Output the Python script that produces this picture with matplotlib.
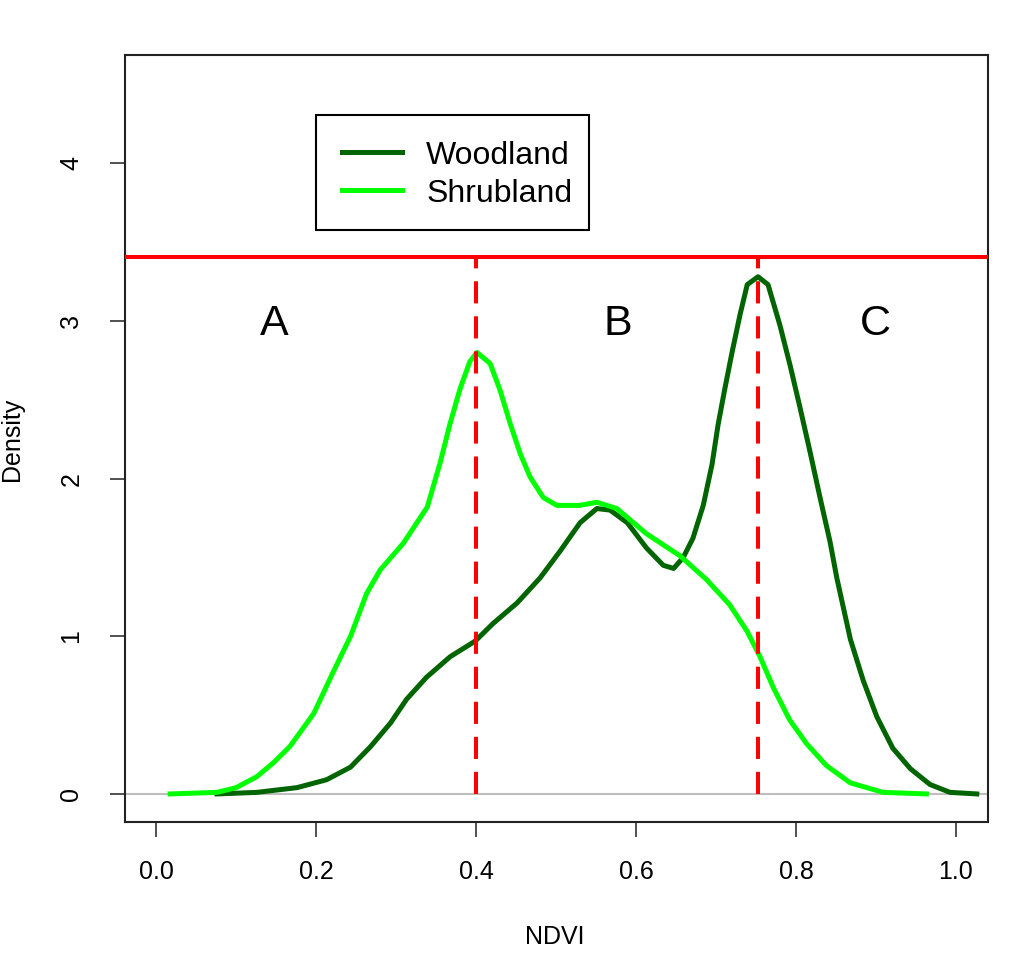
import matplotlib
matplotlib.use("Agg")
import matplotlib.pyplot as plt
from matplotlib.patches import Rectangle

# density curves (NDVI, density)
wood_x = [0.076, 0.126, 0.176, 0.213, 0.243, 0.268, 0.293, 0.313, 0.338, 0.3675,
          0.399, 0.421, 0.451, 0.48, 0.505, 0.53, 0.551, 0.5675, 0.589, 0.613,
          0.634, 0.647, 0.659, 0.671, 0.684, 0.695, 0.7025, 0.711, 0.72, 0.73,
          0.739, 0.7525, 0.765, 0.78, 0.7925, 0.805, 0.8175, 0.83, 0.8425, 0.851,
          0.868, 0.884, 0.901, 0.921, 0.943, 0.9675, 0.9925, 1.026]
wood_y = [0.0, 0.01, 0.04, 0.09, 0.17, 0.30, 0.45, 0.60, 0.74, 0.87,
          0.97, 1.08, 1.21, 1.37, 1.54, 1.72, 1.81, 1.80, 1.72, 1.56,
          1.45, 1.43, 1.50, 1.62, 1.83, 2.09, 2.34, 2.57, 2.80, 3.04,
          3.23, 3.28, 3.23, 2.97, 2.72, 2.45, 2.17, 1.88, 1.60, 1.37,
          0.98, 0.72, 0.49, 0.29, 0.16, 0.06, 0.01, 0.0]

shrub_x = [0.0175, 0.076, 0.10, 0.126, 0.147, 0.167, 0.197, 0.221, 0.243, 0.263,
           0.28, 0.309, 0.339, 0.355, 0.3675, 0.38, 0.392, 0.401, 0.4175, 0.43,
           0.4425, 0.455, 0.4675, 0.484, 0.501, 0.53, 0.551, 0.576, 0.613, 0.655,
           0.688, 0.717, 0.739, 0.755, 0.772, 0.792, 0.813, 0.838, 0.868, 0.909,
           0.963]
shrub_y = [0.0, 0.01, 0.04, 0.11, 0.20, 0.30, 0.51, 0.77, 1.0, 1.27,
           1.42, 1.59, 1.82, 2.10, 2.35, 2.57, 2.74, 2.80, 2.73, 2.56,
           2.35, 2.16, 2.01, 1.88, 1.83, 1.83, 1.85, 1.81, 1.65, 1.51,
           1.36, 1.2, 1.03, 0.87, 0.67, 0.47, 0.32, 0.18, 0.07, 0.01,
           0.0]

cut_level = 3.405
cut_x = [0.4, 0.7525]
zone_labels = ["A", "B", "C"]
zone_x = [0.147, 0.577, 0.899]
zone_y = 2.98

xticks = [0.0, 0.2, 0.4, 0.6, 0.8, 1.0]
yticks = [0, 1, 2, 3, 4]

plt.rcParams["font.family"] = ["Liberation Sans", "DejaVu Sans"]

fig = plt.figure(figsize=(10.18, 9.64), dpi=100)
ax = fig.add_axes([0.1228, 0.1473, 0.8477, 0.7956])

ax.axhline(0, color="#bebebe", lw=1.5, zorder=1)
ax.plot(wood_x, wood_y, color="#006400", lw=3.6, label="Woodland", zorder=3,
        solid_joinstyle="round")
ax.plot(shrub_x, shrub_y, color="#00ff00", lw=3.6, label="Shrubland", zorder=3,
        solid_joinstyle="round")

ax.axhline(cut_level, color="red", lw=2.9, zorder=4)
for cx in cut_x:
    ax.plot([cx, cx], [0, cut_level], color="red", lw=2.9,
            linestyle=(0, (5.5, 3.2)), zorder=4)

for lab, zx in zip(zone_labels, zone_x):
    ax.text(zx, zone_y, lab, fontsize=31, ha="center", va="center")

ax.set_xlim(-0.039, 1.04)
ax.set_ylim(-0.178, 4.686)
ax.set_xticks(xticks)
ax.set_xticklabels(["%.1f" % v for v in xticks])
ax.set_yticks(yticks)
ax.set_yticklabels([str(v) for v in yticks])
ax.tick_params(axis="both", direction="out", length=11, width=1.1,
               labelsize=18, color="#222222")
ax.tick_params(axis="x", pad=16)
ax.tick_params(axis="y", pad=19, labelrotation=90)
for lbl in ax.get_yticklabels():
    lbl.set_va("center")
for sp in ax.spines.values():
    sp.set_linewidth(1.5)
    sp.set_color("#222222")

fig.text(554.5 / 1018, 1 - 936.5 / 964, "NDVI", fontsize=18,
         ha="center", va="center")
fig.text(12.5 / 1018, 1 - 439 / 964, "Density", fontsize=18,
         ha="center", va="center", rotation=90)

# legend entries without frame, box drawn separately (R style padding)
leg = ax.legend(loc="upper left", bbox_to_anchor=(0.2213, 0.9218),
                borderaxespad=0, fontsize=23, frameon=False,
                handlelength=1.9, handletextpad=0.75, labelspacing=0.25,
                borderpad=0.8)
box = Rectangle((316 / 1018, 1 - 230 / 964), 273 / 1018, 115 / 964,
                transform=fig.transFigure, fill=False, edgecolor="black",
                lw=1.5, zorder=5)
fig.add_artist(box)

fig.savefig("out.png", dpi=100)
